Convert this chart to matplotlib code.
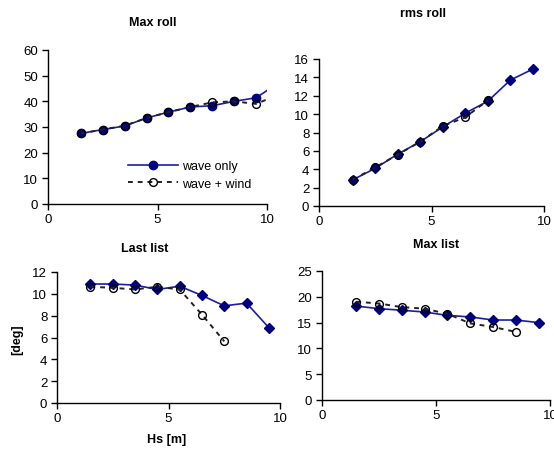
import matplotlib
matplotlib.use("Agg")
import matplotlib.pyplot as plt
from matplotlib.lines import Line2D

plt.rcParams['font.family'] = ['Liberation Sans', 'DejaVu Sans']

hs = [1.5, 2.5, 3.5, 4.5, 5.5, 6.5, 7.5, 8.5, 9.5, 10.5]

maxroll_wave = [27.5, 29.0, 30.4, 33.5, 35.8, 37.8, 38.3, 40.0, 41.4, 47.0]
maxroll_wind = [27.5, 29.0, 30.5, 33.5, 35.8, 37.8, 39.6, 40.0, 39.0, 42.5]

rmsroll_wave = [2.85, 4.1, 5.65, 7.0, 8.6, 10.1, 11.4, 13.7, 14.9]
rmsroll_wind = [2.85, 4.2, 5.6, 7.0, 8.7, 9.65, 11.5]

lastlist_wave = [10.9, 10.9, 10.8, 10.4, 10.7, 9.85, 8.9, 9.15, 6.9]
lastlist_wind = [10.65, 10.55, 10.4, 10.65, 10.4, 8.1, 5.65]

maxlist_wave = [18.2, 17.7, 17.4, 17.05, 16.4, 16.1, 15.5, 15.5, 15.0]
maxlist_wind = [19.05, 18.7, 18.0, 17.7, 16.7, 14.85, 14.15, 13.2]

titles = ["Max roll", "rms roll", "Last list", "Max list"]
yticks = [[0, 10, 20, 30, 40, 50, 60], [0, 2, 4, 6, 8, 10, 12, 14, 16],
          [0, 2, 4, 6, 8, 10, 12], [0, 5, 10, 15, 20, 25]]
xticks = [0, 5, 10]

NAVY = '#000080'
LINEBLUE = '#1c1ca8'

fig = plt.figure(figsize=(5.54, 4.64), dpi=100)
W, H = 554, 464

def ax_px(l, t, r, b):
    return fig.add_axes([l / W, 1 - b / H, (r - l) / W, (b - t) / H])

axes = [ax_px(48, 51, 267, 205), ax_px(319, 60, 544, 207),
        ax_px(57, 273, 280, 404), ax_px(322, 272, 550, 401)]

data = [(maxroll_wave, maxroll_wind, 'o'), (rmsroll_wave, rmsroll_wind, 'D'),
        (lastlist_wave, lastlist_wind, 'D'), (maxlist_wave, maxlist_wind, 'D')]

for i, (ax, (wv, wd, mk)) in enumerate(zip(axes, data)):
    ms = 6.0 if mk == 'o' else 5.0
    ax.plot(hs[:len(wv)], wv, color=LINEBLUE, lw=1.2, marker=mk, ms=ms,
            mfc=NAVY, mec=NAVY, zorder=3)
    ax.plot(hs[:len(wd)], wd, color='#222222', lw=1.4, ls=(0, (2.5, 2.5)),
            marker='o', ms=5.6, mfc='none', mec='black', mew=1.0, zorder=4)
    ax.set_xlim(0, 10)
    ax.set_ylim(yticks[i][0], yticks[i][-1])
    ax.set_xticks(xticks)
    ax.set_yticks(yticks[i])
    for s in ['top', 'right']:
        ax.spines[s].set_visible(False)
    for s in ['left', 'bottom']:
        ax.spines[s].set_linewidth(1.0)
    ax.tick_params(direction='out', length=4, width=1.0, labelsize=9.5, pad=3)
    ax.tick_params(axis='x', pad=2.5)
    ax.set_facecolor('none')

# titles
title_pos = [(153, 23), (423, 14), (145, 249), (436, 245)]
for t, (x, y) in zip(titles, title_pos):
    fig.text(x / W, 1 - y / H, t, ha='center', va='center', fontsize=9,
             fontweight='bold')

fig.text(17 / W, 1 - 340 / H, "[deg]", rotation=90, ha='center', va='center',
         fontsize=9, fontweight='bold')
fig.text(167 / W, 1 - 440 / H, "Hs [m]", ha='center', va='center',
         fontsize=9, fontweight='bold')

handles = [Line2D([], [], color=LINEBLUE, lw=1.2, marker='o', ms=6,
                  mfc=NAVY, mec=NAVY),
           Line2D([], [], color='#222222', lw=1.4, ls=(0, (2.5, 2.5)),
                  marker='o', ms=5.6, mfc='none', mec='black')]
fig.legend(handles, ["wave only", "wave + wind"], loc='upper left',
           bbox_to_anchor=(128 / W, 1 - 161 / H), frameon=False, fontsize=9,
           handlelength=4.0, handletextpad=0.3, labelspacing=0.45,
           borderpad=0, borderaxespad=0)

fig.savefig("out.png", dpi=100)
